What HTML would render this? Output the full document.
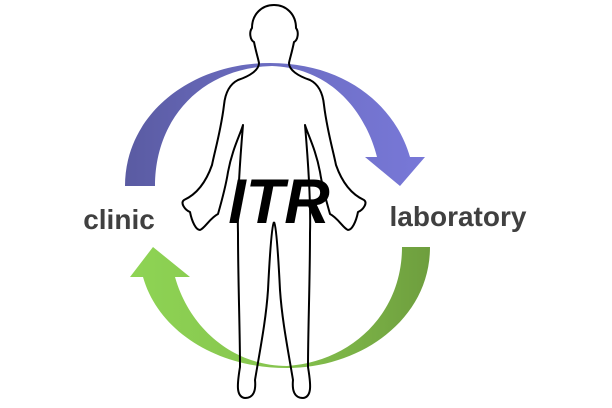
<!DOCTYPE html>
<html><head><meta charset="utf-8"><style>
html,body{margin:0;padding:0;background:#fff;}
svg{display:block;}
</style></head><body>
<svg width="612" height="408" viewBox="0 0 612 408" xmlns="http://www.w3.org/2000/svg">
<defs>
<linearGradient id="gp" x1="125" y1="0" x2="425" y2="0" gradientUnits="userSpaceOnUse">
<stop offset="0" stop-color="#5a5ba2"/><stop offset="0.45" stop-color="#6b6cc0"/><stop offset="1" stop-color="#7878d8"/>
</linearGradient>
<linearGradient id="gg" x1="130" y1="0" x2="430" y2="0" gradientUnits="userSpaceOnUse">
<stop offset="0" stop-color="#8ed454"/><stop offset="0.5" stop-color="#86c44e"/><stop offset="1" stop-color="#6e9e3e"/>
</linearGradient>
</defs>
<path fill="url(#gp)" d="M125,186 C125,115 190,63 270,63 C345,63 395,105 410,157 L425,157 L400,186 L365,157 L377,157 C365,110 330,68 272,66 C200,68 155,120 155,186 Z"/>
<path fill="url(#gg)" d="M430,247 C430,320 360,368 287,368 C215,368 158,330 143,277 L130,277 L153,247 L190,277 L175,277 C190,330 235,366 287,366 C350,362 402,315 402,247 Z"/>
<g fill="none" stroke="#000" stroke-width="2" stroke-linejoin="round">
<path id="half" d="M274,5 C262,5 252,14 252,28 C249,32 250,40 254,42 C256,52 258,58 259,63 C259,70 250,76 238,80 C228,85 225,95 224,105 C221,130 215,150 212,165 C205,185 195,195 184,200 C180,203 185,210 190,212 C192,222 196,230 200,230 C205,228 210,218 218,214 C222,200 226,185 228,172 C232,150 240,135 243,125 C240,160 237,200 238,233 C238,280 240,330 240,367 C237,385 236,397 245,398 C254,398 256,390 255,380 C260,350 266,320 268,290 C270,250 272,225 274,222"/>
<use href="#half" transform="translate(548,0) scale(-1,1)"/>
</g>
<text x="279" y="223" text-anchor="middle" font-family="Liberation Sans, sans-serif" font-weight="bold" font-style="italic" font-size="63" fill="#000">ITR</text>
<text x="119" y="229" text-anchor="middle" font-family="Liberation Sans, sans-serif" font-weight="bold" font-size="28" fill="#404040">clinic</text>
<text x="458" y="226" text-anchor="middle" font-family="Liberation Sans, sans-serif" font-weight="bold" font-size="28" fill="#404040">laboratory</text>
</svg>
</body></html>
